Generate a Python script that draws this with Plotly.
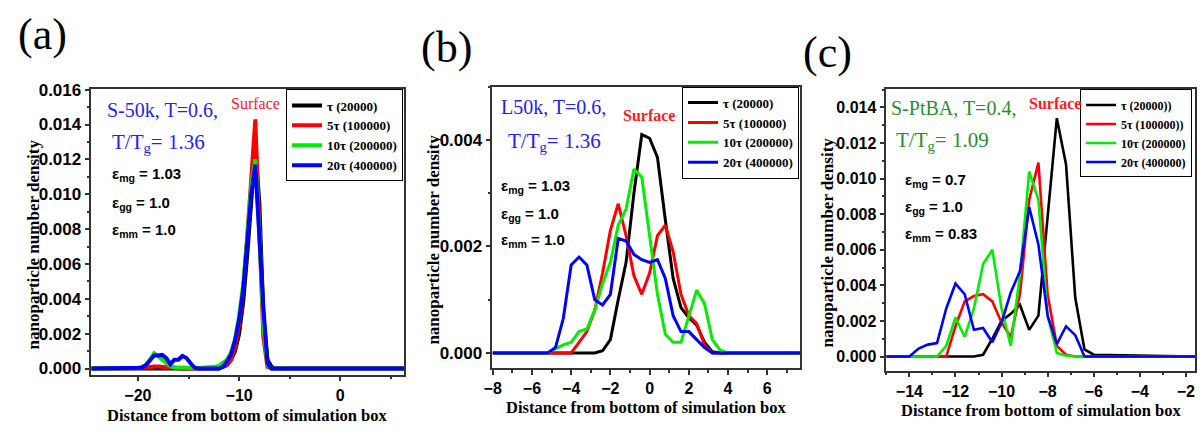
import plotly.graph_objects as go

# ---------------- data ----------------
# Panel (a): S-50k, T=0.6
x_a = [-24.6, -20.4, -20.0, -19.6, -19.2, -18.8, -18.4, -18.0, -17.6, -17.2, -16.8, -16.4,
       -16.0, -15.6, -15.2, -14.8, -14.4, -14.0, -13.6, -13.2, -12.8, -12.4, -12.0, -11.6,
       -11.2, -10.8, -10.4, -10.0, -9.6, -9.2, -8.8, -8.4, -8.0, -7.6, -7.2, -6.8, -6.4, 6.3]
black_a = [0, 0, 0, 0, 0, 0, 0, 0, 0, 0, 0, 0, 0, 0, 0, 0, 0, 0, 0, 0, 0, 0, 0,
           0.0001, 0.0002, 0.0005, 0.001, 0.002, 0.0038, 0.0065, 0.0098, 0.0127, 0.0095,
           0.003, 0.0005, 0.0001, 0, 0]
red_a = [0, 0, 0, 0.00003, 0.00006, 0.0001, 0.00012, 0.00012, 0.0001, 0.00007, 0.00003,
         0, 0, 0, 0, 0, 0, 0, 0, 0, 0, 0.00002, 0.00005,
         0.0001, 0.0002, 0.0005, 0.0012, 0.0025, 0.0045, 0.0075, 0.011, 0.0143, 0.008,
         0.0018, 0.0001, 0, 0, 0]
green_a = [0, 0, 0.00003, 0.0001, 0.0002, 0.0005, 0.00088, 0.0007, 0.0005, 0.0003, 0.00012,
           0.00008, 0.00006, 0.00005, 0.00004, 0.00003, 0.00003, 0.00003, 0.00004, 0.00005,
           0.00007, 0.0001, 0.00015,
           0.0003, 0.0005, 0.0009, 0.0017, 0.003, 0.0048, 0.0075, 0.0105, 0.012, 0.0078,
           0.0025, 0.0002, 0, 0, 0]
blue_a = [0, 0, 0, 0.00005, 0.0002, 0.0005, 0.00075, 0.00075, 0.00078, 0.0006, 0.00025,
          0.0005, 0.0005, 0.00072, 0.0006, 0.0003, 0.00005, 0, 0, 0, 0, 0, 0,
          0.0001, 0.0004, 0.0008, 0.0016, 0.0028, 0.0045, 0.0072, 0.01, 0.0117, 0.0075,
          0.0035, 0.0003, 0, 0, 0]

# Panel (b): L50k, T=0.6
x_b = [-8.0, -5.2, -4.8, -4.4, -4.0, -3.6, -3.2, -2.8, -2.4, -2.0, -1.6, -1.2, -0.8,
       -0.4, 0.0, 0.4, 0.8, 1.2, 1.6, 2.0, 2.4, 2.8, 3.2, 3.6, 4.0, 7.67]
black_b = [0, 0, 0, 0, 0, 0, 0, 0, 0.00004, 0.00025, 0.001, 0.0017, 0.003,
           0.0041, 0.00403, 0.00367, 0.0025, 0.0014, 0.00085, 0.00066, 0.00052, 0.0002,
           0.00002, 0, 0, 0]
red_b = [0, 0, 0, 0, 0, 0.0002, 0.0004, 0.0008, 0.0015, 0.0023, 0.0028, 0.0022, 0.00145,
         0.0011, 0.0015, 0.0022, 0.0024, 0.0019, 0.0011, 0.0007, 0.00055, 0.00015,
         0, 0, 0, 0]
green_b = [0, 0, 0.00008, 0.00015, 0.0002, 0.0004, 0.00045, 0.0008, 0.0013, 0.0017, 0.0024,
           0.0027, 0.00345, 0.0033, 0.0022, 0.0011, 0.00035, 0.0002, 0.0002, 0.0007,
           0.00118, 0.00092, 0.00025, 0.00005, 0, 0]
blue_b = [0, 0, 0.0001, 0.00065, 0.00165, 0.0018, 0.00165, 0.001, 0.0009, 0.0011, 0.00215,
          0.0021, 0.00185, 0.00175, 0.0017, 0.00175, 0.0014, 0.0007, 0.0004, 0.0004,
          0.00025, 0.0001, 0, 0, 0, 0]

# Panel (c): S-PtBA, T=0.4
x_c = [-15.0, -14.0, -13.6, -13.2, -12.8, -12.4, -12.0, -11.6, -11.2, -10.8, -10.4, -10.0,
       -9.6, -9.2, -8.8, -8.4, -8.0, -7.6, -7.2, -6.8, -6.4, -6.0, -1.6]
black_c = [0, 0, 0, 0, 0, 0, 0, 0, 0, 0.0001, 0.001, 0.002, 0.0024, 0.0029, 0.0015,
           0.0023, 0.0078, 0.0134, 0.0108, 0.0033, 0.0004, 0.0001, 0]
red_c = [0, 0, 0, 0, 0, 0, 0.0017, 0.0031, 0.0034, 0.0035, 0.0031, 0.0019, 0.0011,
         0.0035, 0.0088, 0.0109, 0.0035, 0.0006, 0.0001, 0, 0, 0, 0]
green_c = [0, 0, 0, 0, 0, 0.0006, 0.0022, 0.0011, 0.0027, 0.0052, 0.006, 0.0027, 0.0006,
           0.0046, 0.0104, 0.0088, 0.0023, 0.0002, 0.00005, 0, 0, 0, 0]
blue_c = [0, 0, 0.00045, 0.00067, 0.00076, 0.0027, 0.0041, 0.0035, 0.0015, 0.0016, 0.0008,
          0.0019, 0.0036, 0.0048, 0.0084, 0.0063, 0.0023, 0.0007, 0.0017, 0.0012, 0, 0, 0]

names_ab = ["τ (20000)", "5τ (100000)", "10τ (200000)", "20τ (400000)"]
names_c = ["τ (20000))", "5τ (100000))", "10τ (200000)", "20τ (400000)"]
colors = ["#000000", "#ff0000", "#00ee00", "#0000ff"]

# ---------------- figure ----------------
W, H = 1200, 431
SERIF = "Liberation Serif"
SANS = "Liberation Sans"


def px(x):
    return x / W


def py(y):
    return 1 - y / H


fig = go.Figure()

panels = [
    ("x", "y", "legend", x_a, [black_a, red_a, green_a, blue_a], names_ab, 4),
    ("x2", "y2", "legend2", x_b, [black_b, red_b, green_b, blue_b], names_ab, 3),
    ("x3", "y3", "legend3", x_c, [black_c, red_c, green_c, blue_c], names_c, 2.6),
]
for xa, ya, lg, xs, ys, nms, lw in panels:
    for yv, nm, col in zip(ys, nms, colors):
        fig.add_trace(go.Scatter(x=xs, y=yv, mode="lines", name=nm, xaxis=xa, yaxis=ya,
                                 legend=lg, line=dict(color=col, width=lw)))

# plot areas in pixels: (left, right, top, bottom)
boxes = [(83, 398, 83, 377), (487, 797, 80, 370), (884, 1195, 83, 373)]
xranges = [[-24.6, 6.3], [-8.02, 7.67], [-15.0, -1.6]]
yranges = [[-0.00035, 0.01601], [-0.00028, 0.005], [-0.0008, 0.01501]]
xdt = [10, 2, 2]
xminor = [5, 1, 1]
ytick_size = [17, 17, 16]

axis_common = dict(showgrid=False, zeroline=False, showline=True, linecolor="#333333",
                   linewidth=1.5, mirror=True, ticks="outside", ticklen=5, tickwidth=1.5,
                   tickcolor="#333333")
for i, (l, r, t, b) in enumerate(boxes):
    sfx = "" if i == 0 else str(i + 1)
    fig.update_layout(**{
        "xaxis" + sfx: dict(domain=[px(l), px(r)], anchor="y" + sfx, range=xranges[i],
                            dtick=xdt[i], tick0=0,
                            minor=dict(dtick=xminor[i], ticks="outside", ticklen=3,
                                       tickcolor="#333333"),
                            tickfont=dict(family=SANS, size=16, color="black", weight="bold"),
                            **axis_common),
        "yaxis" + sfx: dict(domain=[py(b), py(t)], anchor="x" + sfx, range=yranges[i],
                            dtick=0.002, tick0=0, tickformat=".3f",
                            minor=dict(dtick=0.001, ticks="outside", ticklen=3,
                                       tickcolor="#333333"),
                            tickfont=dict(family=SANS, size=ytick_size[i], color="black",
                                          weight="bold"),
                            **axis_common),
    })

legend_pos = [(397, 83), (796, 80), (1192, 83)]
legend_font = [13, 13, 12]
for i, (lx, ly) in enumerate(legend_pos):
    key = "legend" if i == 0 else "legend" + str(i + 1)
    fig.update_layout(**{key: dict(x=px(lx), y=py(ly), xanchor="right", yanchor="top",
                                   bgcolor="white", bordercolor="black", borderwidth=1,
                                   font=dict(family=SERIF, size=legend_font[i], color="black",
                                             weight="bold"),
                                   tracegroupgap=0)})

ann = []


def text(x, y, s, size, color="black", family=SERIF, xanchor="left", angle=0):
    ann.append(dict(x=px(x), y=py(y), xref="paper", yref="paper", text=s, showarrow=False,
                    xanchor=xanchor, yanchor="middle", textangle=angle,
                    font=dict(family=family, size=size, color=color)))


# panel labels
text(34, 26, "(a)", 44, xanchor="center")
text(441, 40, "(b)", 44, xanchor="center")
text(825, 45, "(c)", 44, xanchor="center")

# axis titles
xt = "<b>Distance from bottom of simulation box</b>"
yt = "<b>nanoparticle number density</b>"
text(240, 419, xt, 16.5, xanchor="center")
text(642, 411, xt, 16.5, xanchor="center")
text(1040, 414, xt, 16.5, xanchor="center")
text(25, 243, yt, 17, xanchor="center", angle=-90)
text(428, 238, yt, 17, xanchor="center", angle=-90)
text(825, 241, yt, 17, xanchor="center", angle=-90)

BLUE = "#2323ee"
GREEN = "#2a8f2a"
RED = "#ff1a1a"

# panel (a) texts
text(97, 104, "S-50k, T=0.6,", 20, BLUE)
text(102, 138, "T/T<sub>g</sub>= 1.36", 21, BLUE)
text(222, 97, "Surface", 16, RED)
text(102, 171, "<b>ε<sub>mg</sub> = 1.03</b>", 15, family=SANS)
text(102, 201, "<b>ε<sub>gg</sub> = 1.0</b>", 15, family=SANS)
text(102, 228, "<b>ε<sub>mm</sub> = 1.0</b>", 15, family=SANS)

# panel (b) texts
text(494, 101, "L50k, T=0.6,", 20, BLUE)
text(501, 137, "T/T<sub>g</sub>= 1.36", 21, BLUE)
text(617, 110, "<b>Surface</b>", 16, RED)
text(494, 183, "<b>ε<sub>mg</sub> = 1.03</b>", 15, family=SANS)
text(494, 212, "<b>ε<sub>gg</sub> = 1.0</b>", 15, family=SANS)
text(494, 239, "<b>ε<sub>mm</sub> = 1.0</b>", 15, family=SANS)

# panel (c) texts
text(887, 102, "S-PtBA, T=0.4,", 20, GREEN)
text(892, 136, "T/T<sub>g</sub>= 1.09", 21, GREEN)
text(1026, 97, "<b>Surface</b>", 16, RED)
text(901, 177, "<b>ε<sub>mg</sub> = 0.7</b>", 15, family=SANS)
text(901, 205, "<b>ε<sub>gg</sub> = 1.0</b>", 15, family=SANS)
text(901, 232, "<b>ε<sub>mm</sub> = 0.83</b>", 15, family=SANS)

fig.update_layout(width=W, height=H, margin=dict(l=0, r=0, t=0, b=0),
                  paper_bgcolor="white", plot_bgcolor="white", showlegend=True,
                  annotations=ann)

fig.write_html("out.html", config={"displayModeBar": False})
